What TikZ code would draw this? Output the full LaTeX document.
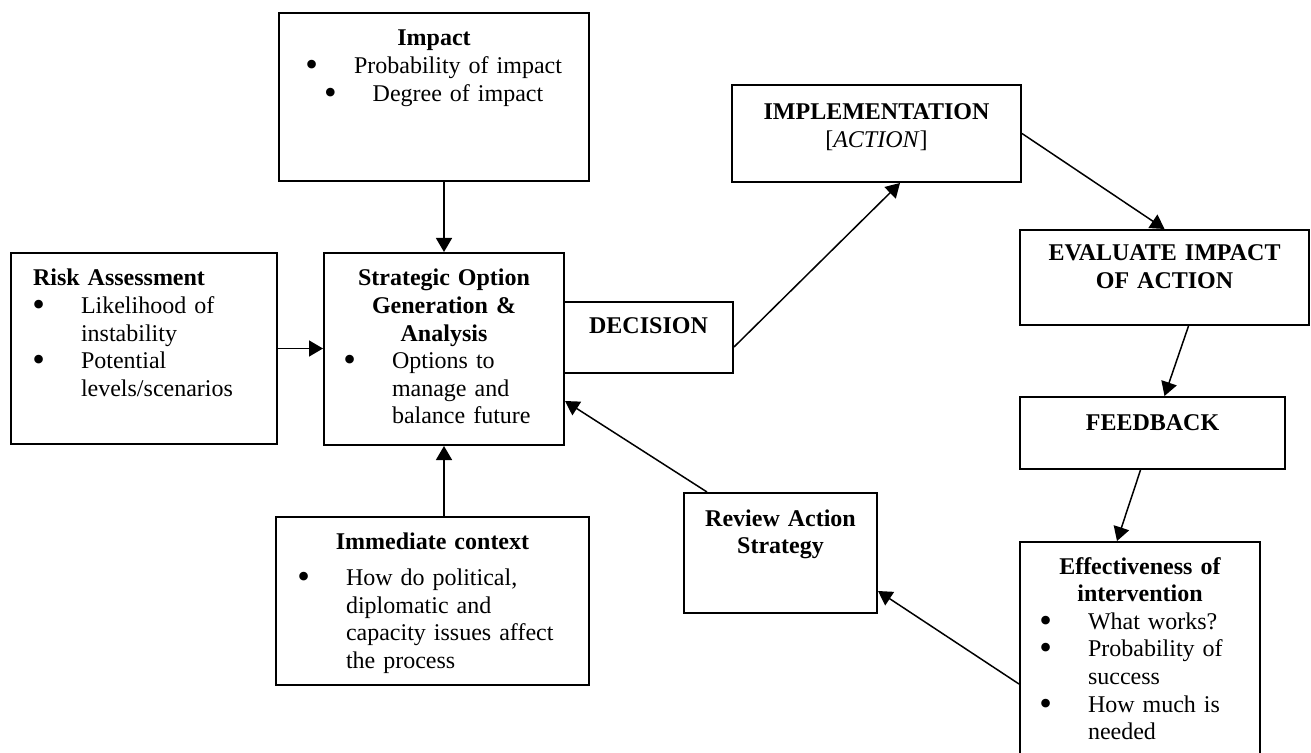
\documentclass[tikz,border=0pt]{standalone}
\usepackage{fontspec}
\setmainfont{Liberation Serif}
\usepackage{graphicx}
\usepackage{tikz}
\usetikzlibrary{arrows.meta,positioning}

% bullet, continuation indent, left-set line
\newcommand{\bul}{\makebox[24pt][l]{\hspace{-0.3pt}\raisebox{-1.5pt}{\scalebox{1.5}{\textbullet}}}}
\newcommand{\cnt}{\hspace*{24pt}}
\newcommand{\lft}[1]{\makebox[\linewidth][l]{#1}}

\begin{document}
\begin{tikzpicture}[
    x=0.5pt, y=-0.5pt,
    box/.style={rectangle, draw, line width=1pt, anchor=north west, inner xsep=5pt, inner ysep=0pt,
                font=\fontsize{12}{13.8}\selectfont},
    arrow/.style={-{Triangle[length=7pt,width=8pt]}, line width=0.75pt}
]
    \useasboundingbox (0,0) rectangle (1311,753);
    \clip (0,0) rectangle (1311,753);

    % Risk assessment
    \node[box, inner xsep=11pt, text width=111pt, text height=16.5pt, text depth=79pt, align=left] (risk) at (10,252)
        {\textbf{Risk Assessment}\\
         \bul Likelihood of\\
         \cnt instability\\
         \bul Potential\\
         \cnt levels/scenarios};

    % Impact
    \node[box, inner xsep=10pt, text width=135pt, text height=16.5pt, text depth=67.5pt, align=center] (impact) at (278,12)
        {\textbf{Impact}\\
         \bul Probability of impact\\
         \bul Degree of impact};

    % Strategic options
    \node[box, inner xsep=10pt, text width=100pt, text height=16.5pt, text depth=79.5pt, align=center] (strat) at (323,252)
        {\textbf{Strategic Option}\\
         \textbf{Generation \&}\\
         \textbf{Analysis}\\
         \lft{\bul Options to}\\
         \lft{\cnt manage and}\\
         \lft{\cnt balance future}};

    % Decision
    \node[box, text width=74.5pt, text height=16pt, text depth=19.5pt, align=center] (dec) at (563,301)
        {\textbf{DECISION}};

    % Implementation
    \node[box, text width=134.5pt, text height=17.5pt, text depth=31pt, align=center] (impl) at (731,84)
        {\textbf{IMPLEMENTATION}\\
         {[}\textit{ACTION}{]}};

    % Evaluate
    \node[box, text width=134.5pt, text height=15.5pt, text depth=32pt, align=center] (eval) at (1019,229)
        {\textbf{EVALUATE IMPACT}\\
         \textbf{OF ACTION}};

    % Feedback
    \node[box, text width=122.5pt, text height=16.5pt, text depth=19.5pt, align=center] (fb) at (1019,396)
        {\textbf{FEEDBACK}};

    % Effectiveness
    \node[box, inner xsep=10pt, text width=100pt, text height=16pt, text depth=98.5pt, align=center] (eff) at (1019,541)
        {\textbf{Effectiveness of}\\
         \textbf{intervention}\\
         \lft{\bul What works?}\\
         \lft{\bul Probability of}\\
         \lft{\cnt success}\\
         \lft{\bul How much is}\\
         \lft{\cnt needed}};

    % Review
    \node[box, text width=86.5pt, text height=16.5pt, text depth=43.5pt, align=center] (rev) at (683,492)
        {\textbf{Review Action}\\
         \textbf{Strategy}};

    % Immediate context
    \node[box, inner xsep=11pt, text width=134.5pt, text height=16pt, text depth=68pt, align=center] (imm) at (275,516)
        {\textbf{Immediate context}\\[4.5pt]
         \lft{\bul How do political,}\\
         \lft{\cnt diplomatic and}\\
         \lft{\cnt capacity issues affect}\\
         \lft{\cnt the process}};

    % Arrows
    \draw[arrow] (risk.east) -- (risk.east -| strat.west);
    \draw[arrow] (strat.north |- impact.south) -- (strat.north);
    \draw[arrow] (strat.south |- imm.north) -- (strat.south);
    \draw[arrow] ([yshift=-4.75pt]dec.east) -- ([xshift=11.75pt]impl.south);
    \draw[arrow] (impl.east) -- (eval.north);
    \draw[arrow] ([xshift=12pt]eval.south) -- ([xshift=6pt]fb.north);
    \draw[arrow] ([xshift=-6pt]fb.south) -- ([xshift=-11.5pt]eff.north);
    \draw[arrow] ([yshift=-71.5pt]eff.north west) -- ([yshift=-19pt]rev.east);
    \draw[arrow] ([xshift=12pt]rev.north west) -- ([yshift=-26pt]strat.east);

\end{tikzpicture}
\end{document}
